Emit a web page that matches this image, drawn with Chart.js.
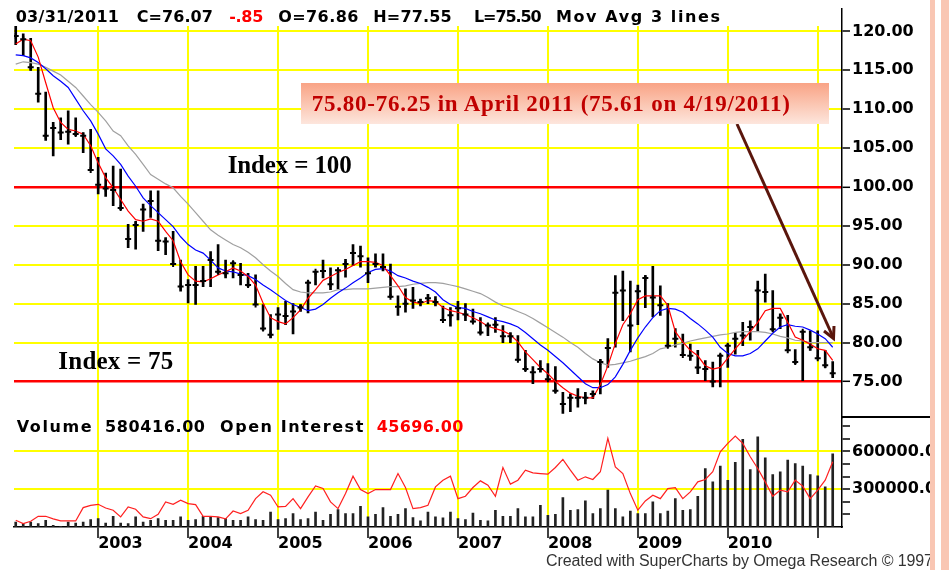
<!DOCTYPE html>
<html>
<head>
<meta charset="utf-8">
<script src="https://cdn.jsdelivr.net/npm/chart.js@4.4.1/dist/chart.umd.min.js"></script>
<style>
  html, body { margin: 0; padding: 0; background: #fff; }
  #wrap { position: relative; width: 949px; height: 570px; overflow: hidden; background: #fff; }
  #chart { position: absolute; left: 0; top: 0; }
  .mono { position: absolute; white-space: nowrap; font-family: 'DejaVu Sans', sans-serif; font-weight: bold;
          font-size: 16px; line-height: 16px; color: #000; }
  .serif { position: absolute; white-space: nowrap; font-family: 'Liberation Serif', 'Times New Roman', serif; font-weight: bold; }
  .red { color: #ff0000; }
  #mask { position: absolute; left: 14px; top: 0; width: 826px; height: 26px; background: #fff; }
  #callout { position: absolute; left: 301px; top: 83px; width: 528px; height: 41px;
             background: linear-gradient(to bottom, #f9a385 0%, #fbc8b5 55%, #fde6dd 100%); }
  #sep { position: absolute; left: 842px; top: 416px; width: 91px; height: 1.5px; background: #000; }
  .pink { position: absolute; top: 0; height: 570px; background: #f9c6b3; }
  #gap { position: absolute; left: 935px; top: 0; width: 6px; height: 570px; background: #fff; }
</style>
</head>
<body>
<div id="wrap">
  <canvas id="chart" width="949" height="570"></canvas>
  <div id="mask"></div>
  <svg width="949" height="570" style="position:absolute;left:0;top:0">
    <line x1="737" y1="124" x2="833" y2="337" stroke="#5a160c" stroke-width="3"/>
    <polyline points="824,331 833.5,338.5 834,326" fill="none" stroke="#5a160c" stroke-width="3"/>
  </svg>
  <div id="callout"></div>
  <div id="sep"></div>
  <div id="gap"></div>
  <div class="pink" style="left:930px;width:5px"></div>
  <div class="pink" style="left:941px;width:8px"></div>
</div>
<script>
// monthly bars, Feb 2002 .. Mar 2011 (index 0 = Feb 2002)
const highs = [120.7,119.7,119.1,115.4,112.2,108.3,108.9,109.8,108.9,107.0,107.4,103.8,101.8,102.7,102.3,95.2,95.6,97.8,99.5,99.5,
  93.5,94.3,90.6,88.1,89.8,89.8,91.7,92.6,90.6,90.4,90.2,88.9,88.7,84.9,83.6,84.5,85.3,85.0,84.9,87.9,
  89.1,90.6,89.6,89.4,90.7,92.6,92.4,90.9,91.4,91.4,90.1,86.0,86.9,87.1,85.6,86.2,85.9,84.7,84.5,85.3,
  85.0,84.3,83.2,82.4,83.2,82.2,81.3,80.9,79.0,76.9,77.7,77.3,76.9,73.6,73.4,74.1,73.6,73.8,77.8,80.5,
  88.6,89.2,87.9,87.4,88.6,89.8,87.3,85.0,81.8,81.1,79.8,79.0,77.7,77.5,78.5,79.8,81.3,82.6,82.8,87.9,
  88.8,86.7,83.7,83.5,79.1,81.5,81.5,81.5,79.0,77.55];
const lows = [118.3,116.9,115.0,110.9,106.0,104.0,106.1,105.5,106.6,104.4,102.1,99.1,98.8,97.6,97.1,92.2,92.0,94.3,96.1,91.8,
  91.3,90.0,86.6,85.1,84.9,87.2,87.2,88.9,88.3,88.3,87.4,87.2,84.9,81.6,80.6,81.7,82.3,81.1,84.0,83.8,
  87.4,88.3,86.8,86.9,88.4,89.9,89.7,87.7,89.7,89.2,85.8,83.5,83.9,84.4,84.7,85.0,84.7,82.8,82.1,82.9,
  82.8,82.6,81.1,80.9,81.3,80.0,80.0,77.7,76.4,74.7,76.2,75.2,73.6,70.9,71.1,71.7,72.1,72.8,73.4,76.8,
  79.4,82.8,78.8,82.3,84.5,83.3,83.5,79.4,79.4,78.3,77.7,76.0,75.1,74.3,74.3,76.8,78.5,79.6,80.3,81.5,
  85.2,81.5,81.8,79.0,77.3,75.1,79.0,77.9,76.8,75.5];
const closes = [119.4,119.0,115.4,112.0,106.6,107.6,107.0,107.1,106.8,106.6,102.2,100.3,99.8,99.6,97.3,93.3,95.1,97.1,98.2,93.1,
  93.0,90.1,87.2,87.4,87.4,87.9,90.6,89.1,88.9,90.2,88.7,87.4,84.9,81.8,81.0,83.6,83.4,84.0,84.5,87.7,
  89.1,89.2,87.5,89.3,90.1,91.5,91.1,88.9,90.1,89.7,85.9,84.6,85.0,85.4,85.2,85.7,85.2,82.9,83.5,84.4,
  83.6,82.7,81.3,82.2,82.3,80.8,80.8,77.8,76.6,76.2,76.6,75.3,73.8,72.1,72.9,72.9,72.9,73.4,77.5,79.3,
  86.4,86.7,82.2,86.6,88.3,85.8,84.8,79.6,80.5,78.4,78.3,76.8,76.6,75.0,78.3,79.6,80.5,80.9,82.0,86.7,
  86.5,81.7,83.2,79.0,77.5,81.4,79.4,78.0,77.1,76.07];
// three moving average lines as drawn
const maFast = [118.4,119.0,118.8,116.7,113.4,110.2,108.3,107.4,107.2,106.8,105.3,103.1,101.2,99.9,98.4,96.9,95.8,95.6,95.9,95.6,
  94.3,93.1,90.4,88.7,87.9,87.8,88.2,88.7,89.1,89.6,89.2,88.5,87.4,85.1,83.2,82.7,82.4,83.2,84.2,85.7,
  86.8,88.0,88.5,89.0,89.4,89.9,90.4,90.4,90.3,89.9,88.6,87.3,85.8,85.2,85.0,85.4,85.3,84.5,84.1,83.9,
  83.6,83.2,82.7,82.1,81.8,81.5,81.0,80.1,78.8,77.8,76.8,76.0,75.0,74.2,73.5,73.1,72.9,72.9,74.6,77.0,
  79.9,82.3,83.7,85.5,86.0,86.0,86.0,84.8,81.4,80.1,79.0,78.3,77.0,76.6,76.8,78.0,79.2,80.3,81.4,82.6,
  84.1,84.4,84.4,82.6,80.7,80.3,79.8,79.2,79.0,77.7];
const maMid = [117.0,116.9,116.6,116.0,115.2,114.3,113.6,112.8,111.3,109.8,108.5,106.8,104.9,104.0,102.9,101.4,100.1,98.6,97.6,96.7,
  95.8,94.9,93.6,92.6,91.9,91.5,90.6,89.6,89.2,89.1,88.8,88.6,88.1,87.4,86.8,86.1,85.4,84.9,84.5,84.1,
  84.3,84.9,85.7,86.4,87.0,87.7,88.3,89.0,89.4,89.5,89.2,88.6,88.3,87.9,87.6,87.1,86.5,85.5,84.9,84.5,
  84.4,84.0,83.7,83.3,82.9,82.7,82.4,82.0,81.3,80.5,79.7,79.0,78.2,77.4,76.5,75.6,74.7,74.2,74.2,74.6,
  75.6,77.2,79.0,80.6,82.0,83.2,84.1,84.4,84.3,83.9,83.1,82.4,81.6,80.7,79.4,78.6,78.3,78.3,78.6,79.2,
  80.2,81.2,82.0,82.3,82.1,82.0,81.6,81.1,80.5,79.4];
const maSlow = [115.8,116.1,116.0,115.8,115.4,114.9,114.4,113.6,112.8,111.7,110.6,109.6,108.5,107.2,106.6,105.3,104.2,102.9,101.6,101.0,
  100.4,99.9,98.8,97.8,96.7,95.6,94.5,93.8,93.2,92.6,92.2,91.6,90.9,90.0,89.2,88.5,87.6,86.8,86.5,86.4,
  86.4,86.4,86.5,86.8,86.8,86.9,86.9,86.9,87.0,87.1,87.2,87.2,87.3,87.5,87.6,87.7,87.7,87.6,87.4,87.2,
  86.9,86.6,86.3,85.8,85.2,84.7,84.4,84.0,83.6,83.1,82.5,81.9,81.3,80.7,80.0,79.4,78.6,77.9,77.4,77.1,
  77.2,77.4,77.6,77.9,78.2,78.6,79.2,79.4,79.7,79.9,80.2,80.4,80.6,80.8,81.0,81.1,81.3,81.4,81.4,81.4,
  81.3,81.1,80.8,80.6,80.3,80.2,80.0,80.0,80.0,80.0];
// lower panel, thousands
const volume = [40,27,40,27,53,13,5,40,32,40,58,66,32,85,32,27,80,40,53,66,
  53,53,80,53,58,85,80,74,66,53,53,80,58,53,119,58,66,106,58,66,
  119,53,101,138,106,106,164,80,101,154,85,101,146,74,48,119,80,72,119,66,
  58,111,53,48,133,85,85,146,80,80,172,93,101,233,133,138,207,106,146,292,
  146,80,127,106,106,199,106,127,225,133,138,244,464,358,483,371,512,695,456,716,
  549,416,438,530,504,483,416,406,318,580.4];
const openInterest = [53,27,45,85,85,64,48,48,48,154,172,180,151,133,80,159,141,80,66,101,
  199,180,212,186,178,85,85,80,64,127,106,133,225,279,252,159,164,225,146,239,
  326,305,199,146,265,403,297,265,297,297,297,424,313,146,154,172,318,371,403,225,
  244,313,366,332,244,472,340,371,451,430,424,419,472,536,451,371,398,377,438,703,
  477,424,265,133,207,252,225,305,313,225,279,358,377,438,597,663,721,663,557,464,
  358,244,292,279,371,324,225,292,371,517];

const priceTicks = [75,80,85,90,95,100,105,110,115,120];
const indexLevels = [75,100];
const volumeTicks = [100000,200000,300000,400000,500000,600000,700000,800000];
const volumeLabelled = [300000,600000];
const yearTicks = [11,23,35,47,59,71,83,95,107];
const yearLabels = ['2003','2004','2005','2006','2007','2008','2009','2010',''];

const tickFont = { family: 'DejaVu Sans', weight: 'bold', size: 16 };
const pts = arr => arr.map((v, i) => ({ x: i, y: v }));
// right-hand axes: fixed width, no extra room asked for the end labels
const fitRight = s => { s.width = 107; s.paddingTop = 0; s.paddingBottom = 0; };

new Chart(document.getElementById('chart'), {
  type: 'bar',
  data: {
    datasets: [
      { type: 'line', label: 'Close', data: pts(closes), yAxisID: 'y', showLine: false,
        pointStyle: 'cross', pointRadius: 3, pointBorderWidth: 2, pointBorderColor: '#000', order: 0 },
      { type: 'line', label: 'MA 1', data: pts(maFast), yAxisID: 'y', borderColor: '#ff0000', borderWidth: 1.2, pointRadius: 0, order: 1 },
      { type: 'line', label: 'MA 2', data: pts(maMid), yAxisID: 'y', borderColor: '#0000ff', borderWidth: 1.2, pointRadius: 0, order: 1 },
      { type: 'line', label: 'MA 3', data: pts(maSlow), yAxisID: 'y', borderColor: '#a0a0a0', borderWidth: 1.2, pointRadius: 0, order: 1 },
      { type: 'bar', label: 'Range', data: highs.map((h, i) => ({ x: i, y: [lows[i], h] })), yAxisID: 'y',
        backgroundColor: '#000', barThickness: 2, grouped: false, order: 2 },
      { type: 'line', label: 'Open Interest', data: openInterest.map((v, i) => ({ x: i, y: v * 1000 })), yAxisID: 'y2',
        borderColor: '#ff2020', borderWidth: 1.2, pointRadius: 0, order: 1 },
      { type: 'bar', label: 'Volume', data: volume.map((v, i) => ({ x: i, y: v * 1000 })), yAxisID: 'y2',
        backgroundColor: '#222', barThickness: 2, grouped: false, order: 2 }
    ]
  },
  options: {
    responsive: false,
    animation: false,
    devicePixelRatio: 1,
    layout: { padding: { left: 14, top: 8.5, right: 0, bottom: 0 } },
    plugins: { legend: { display: false }, tooltip: { enabled: false } },
    scales: {
      x: {
        type: 'linear', position: 'bottom', min: -0.23, max: 110.24, offset: false,
        afterBuildTicks: s => { s.ticks = yearTicks.map(v => ({ value: v })); },
        afterFit: s => { s.height = 43; },
        grid: { offset: false, color: '#ffff00', lineWidth: 2, tickColor: '#000', tickLength: 11, tickWidth: 1.5 },
        border: { color: '#000', width: 1.5 },
        ticks: { align: 'start', padding: -4, autoSkip: false, maxRotation: 0, color: '#000', font: tickFont,
                 callback: v => { const k = yearTicks.indexOf(v); return k < 0 ? '' : yearLabels[k]; } }
      },
      y: {
        position: 'right', stack: 'panels', stackWeight: 410, min: 70.39, max: 122.95,
        afterBuildTicks: s => { s.ticks = priceTicks.map(v => ({ value: v })); },
        afterFit: fitRight,
        grid: {
          color: c => indexLevels.includes(c.tick.value) ? '#ff0000' : '#ffff00',
          lineWidth: c => indexLevels.includes(c.tick.value) ? 2.6 : 2,
          tickColor: '#000', tickLength: 8, tickWidth: 1.5
        },
        border: { color: '#000', width: 1.5 },
        ticks: { padding: 2, autoSkip: false, color: '#000', font: tickFont, callback: v => v.toFixed(2) }
      },
      y2: {
        position: 'right', stack: 'panels', stackWeight: 110, min: 0, max: 870000,
        afterBuildTicks: s => { s.ticks = volumeTicks.map(v => ({ value: v })); },
        afterFit: fitRight,
        grid: {
          color: c => volumeLabelled.includes(c.tick.value) ? '#ffff00' : 'rgba(0,0,0,0)',
          lineWidth: 2, tickColor: '#000', tickLength: 8, tickWidth: 1.5
        },
        border: { color: '#000', width: 1.5 },
        ticks: { padding: 2, autoSkip: false, color: '#000', font: tickFont,
                 callback: v => volumeLabelled.includes(v) ? v.toFixed(2) : '' }
      }
    }
  }
});

// text overlays, each stretched to the width it has in the picture
const wrap = document.getElementById('wrap');
function place(text, cls, left, top, width, style) {
  const el = document.createElement('div');
  el.className = cls;
  el.textContent = text;
  el.style.left = left + 'px';
  el.style.top = top + 'px';
  if (style) Object.assign(el.style, style);
  wrap.insertBefore(el, document.getElementById('gap'));
  const w = el.getBoundingClientRect().width;
  if (width && text.length > 1) el.style.letterSpacing = ((width - w) / (text.length - 1)) + 'px';
  return el;
}
place('03/31/2011', 'mono', 15.7, 9.2, 103.3);
place('C=76.07', 'mono', 136.7, 9.2, 76.3);
place('-.85', 'mono red', 229.3, 9.2, 34);
place('O=76.86', 'mono', 278.3, 9.2, 80);
place('H=77.55', 'mono', 373.3, 9.2, 78.4);
place('L=75.50', 'mono', 474, 9.2, 67.7);
place('Mov Avg 3 lines', 'mono', 556, 9.2, 164);

place('Volume', 'mono', 16.7, 419.2, 75);
place('580416.00', 'mono', 105, 419.2, 100);
place('Open Interest', 'mono', 220, 419.2, 143.3);
place('45696.00', 'mono red', 376.7, 419.2, 86.7);

place('Index = 100', 'serif', 227.7, 151.8, 124, { fontSize: '25px', lineHeight: '25px', color: '#000' });
place('Index = 75', 'serif', 58.3, 348.4, 115, { fontSize: '25px', lineHeight: '25px', color: '#000' });
place('75.80-76.25 in April 2011 (75.61 on 4/19/2011)', 'serif', 311.7, 92.4, 478.3,
      { fontSize: '23px', lineHeight: '23px', color: '#c00000' });

place('Created with SuperCharts by Omega Research \u00a9 1997', 'mono', 546, 553.2, 387,
      { fontFamily: "'Liberation Sans', Arial, sans-serif", fontWeight: 'normal', color: '#333' });
</script>
</body>
</html>
